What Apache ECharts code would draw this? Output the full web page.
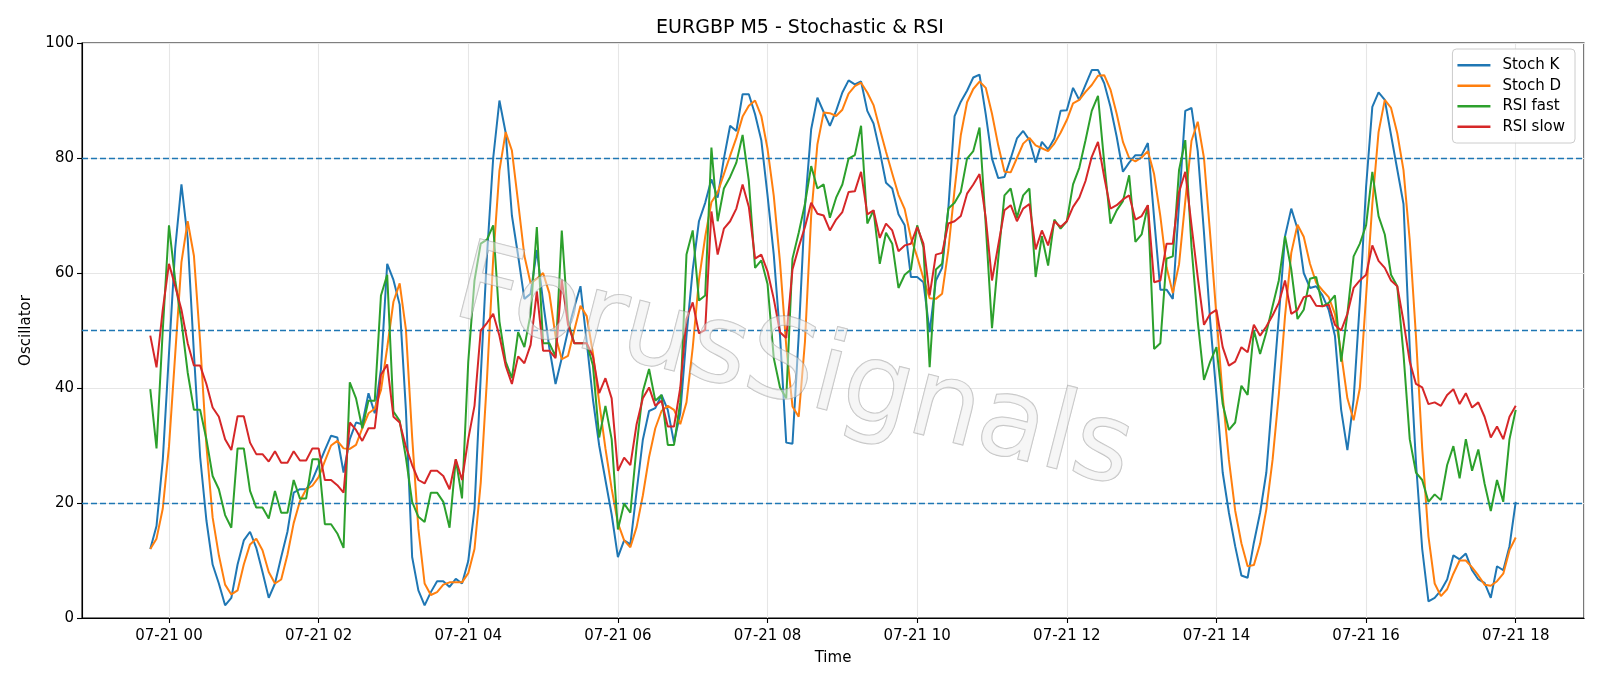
<!DOCTYPE html>
<html>
<head>
<meta charset="utf-8">
<script src="https://cdn.jsdelivr.net/npm/echarts@6/dist/echarts.min.js"></script>
<style>html,body{margin:0;padding:0;background:#fff;}#chart{width:1600px;height:686px;}</style>
</head>
<body>
<div id="chart"></div>
<script>
// 5-minute bars from 07-20 23:45 to 07-21 18:00
const START = new Date(2025, 6, 20, 23, 45, 0).getTime();
const STEP = 5 * 60 * 1000;

const stochK = [
12,16,27.4,46,64.3,75.4,66,46,28,17,
9.3,6,2.2,3.5,9.3,13.5,15,12.2,8,3.5,
6,10.6,15,21.8,22.4,22.4,24,26.6,29.2,31.7,
31.4,25.3,31.1,34,33.7,39.1,35.6,43.3,61.6,58.8,
54.5,36.2,10.6,4.8,2.2,4.5,6.4,6.4,5.4,6.8,
6,9.9,19,42,63,80,90,84.4,70,63,
55.5,56.4,64,55,47,40.7,45.2,50,54,57.7,
48,38,30,24,18,10.6,13.5,12.8,22,31,
36,36.5,38.8,36.2,30.5,35.6,49.1,60.6,69,72.2,
76.3,73.1,79.9,85.6,84.7,91.1,91.1,87.6,83.1,73.5,
63.2,49.1,30.5,30.3,49.1,71.5,85,90.5,88,85.6,
88.2,91.4,93.5,92.8,93.3,88.2,86,81.2,75.7,74.7,
70.2,68.3,59.3,59.3,58.4,49.7,58.7,60.9,71.2,87.3,
89.8,91.7,94,94.5,87.6,79.9,76.5,76.7,79.9,83.4,
84.7,83.1,79.2,82.8,81.5,83.4,88.2,88.3,92.2,90.1,
92.7,95.3,95.3,93,88.9,83.7,77.6,79.2,80.5,80.5,
82.6,69.6,57.1,57.1,55.5,72,88.2,88.7,81.2,67,
51.6,38.8,25.3,18.3,12.5,7.4,7,13.1,18.3,25.3,
38.8,52.3,66.4,71.2,67.7,60,57.4,57.7,56.1,53.6,
49.1,36.2,29.2,38,55,75,88.9,91.4,90.1,84,
78,72,47,27,12,2.9,3.5,4.8,6.7,10.9,
10.2,11.2,8.3,6.7,6.1,3.5,9,8.3,12.5,20.2
];

const stochD = [
12,13.8,19,29.8,45.9,61.9,69,63,48,30,
17.5,10.9,5.8,4.1,4.8,9.3,12.8,13.8,11.8,8,
6,6.7,11,16.5,20.3,22.4,23,24.5,27.3,30,
30.8,29.5,29.4,30.1,33,35.6,36.4,39.6,47,55,
58.2,50.2,31.5,15.5,6,4,4.5,5.8,6.2,6.2,
6.2,7.8,12,23.5,41.5,62.5,77.8,84.5,81.3,72.3,
63,58.2,59,60,56.5,49,45,45.6,50,54.3,
52.5,46,37.5,29.5,22.5,16.5,13.5,12.3,15.8,21.3,
28,33,36,36.9,36.2,33.7,37.5,47,58.8,66.3,
72.3,74,77.2,80.4,83.5,87.2,89.1,90,87.3,81.6,
73.4,61.9,47.3,36.8,35,48,70,82.4,87.9,87.8,
87.3,88.4,91.2,92.5,93.1,91.4,89.2,85.1,81.1,77.3,
73.6,71.1,66.1,62.8,59.1,55.6,55.5,56.4,64,74.5,
84,89.7,92,93.3,92.2,87.7,82.2,77.6,77.5,80,
82.5,83.5,82.2,81.7,81.2,82.5,84.4,86.6,89.5,90.1,
91.5,92.7,94.3,94.4,91.9,87.7,82.8,80,79.4,80.1,
81.2,77.2,69.9,61,56.5,61.5,72.5,83,86.3,80,
66.6,52.5,38.6,27.5,18.7,13,9,9.2,12.9,18.9,
27.5,38.8,52.5,63.5,68.4,66.3,61.6,58.3,57,55.8,
52.9,46,38.2,34.4,40,56,72,84.5,90.1,88.7,
84.3,77.9,65.7,49,29.5,14.2,6,3.8,5,7.7,
10,10,8.8,7.4,5.8,5.6,6.4,7.7,11.8,14
];

const rsiFast = [
39.8,29.5,50,68.3,58.7,51.6,42.7,36.2,36.2,31.1,
24.7,22.4,17.9,15.7,29.5,29.5,22.1,19.2,19.2,17.3,
22.1,18.3,18.3,24,20.8,20.8,27.6,27.6,16.3,16.3,
14.7,12.2,41,38.2,33,37.8,37.8,56.1,59.7,35.9,
34.3,27.9,20.2,17.6,16.7,21.8,21.8,20.2,15.7,27.6,
20.8,44.6,58.7,65.1,65.8,68.3,51.6,44.6,41.7,49.7,
47.1,52.9,68,47.8,47.8,45.5,67.4,51.6,47.8,47.8,
47.8,43.9,31.4,36.9,31.1,15.4,19.9,18.3,29.8,39.4,
43.3,37.8,38.8,30.1,30.1,37.5,63.2,67.4,55.2,56.1,
81.8,69,74.7,76.7,79.2,84,76,60.9,62.2,58.1,
45.2,40.1,38.2,62.5,67,72,78.6,74.7,75.4,69.6,
73.1,75.4,79.9,80.5,85.6,68.6,70.9,61.6,67,65.1,
57.4,59.7,60.6,68.3,64.5,43.6,60.6,61.6,71.2,72.2,
74.1,79.9,81.2,85.3,68.3,50.4,62.5,73.5,74.7,69.6,
73.5,74.7,59.3,66.4,61.3,69.3,67.7,69,75.4,78.3,
83.1,88.2,90.8,79.2,68.6,70.9,72.5,77,65.4,66.7,
71.8,46.8,47.8,62.5,62.9,77.9,83.1,64.5,51.6,41.4,
44.6,47.1,37.2,32.7,34,40.4,38.8,50,45.9,49.7,
54.2,58.7,66.4,60.6,52,53.6,59,59.3,54.2,54.8,
56.1,44.6,52.9,62.9,65.1,68.3,77.6,69.9,66.7,59.7,
57.7,45.9,31.1,25.3,24,20.2,21.5,20.5,26.6,29.9,
24.3,31.1,25.6,29.3,23.4,18.6,24,20.2,31.1,36.2
];

const rsiSlow = [
49.1,43.6,53.6,61.6,57.7,53.6,47.8,43.9,43.9,40.7,
36.6,35,31.1,29.2,35.1,35.1,30.5,28.5,28.5,27.2,
29,27,27,29,27.4,27.4,29.5,29.5,24,24,
23.1,21.8,34,32.7,30.8,33,33,42.3,44.1,35,
34,29.8,26.6,24,23.4,25.6,25.6,24.7,22.4,27.6,
24,31.1,36.9,50,51.3,52.9,49.1,43.9,40.7,45.5,
44.3,47.5,56.8,46.5,46.5,45.2,58.8,51,47.8,47.8,
47.8,45.5,39.1,41.7,38.2,25.6,27.9,26.6,33.7,38.2,
40.1,36.9,37.8,33.3,33.3,40,52,54.9,49.5,50.1,
70.7,63.2,67.7,69,71.2,75.4,71.5,62.5,63.2,60.3,
55.5,49.7,48.7,60.6,64.5,68,72.2,70.3,70,67.4,
69.3,70.6,74.1,74.2,77.6,70.2,70.9,66.1,68.6,67.4,
63.8,64.8,65.1,68,65.1,56.1,63.2,63.5,68.6,69,
69.9,73.8,75.4,77.2,69.6,58.7,64.8,70.9,71.8,69,
71.2,72,64.1,67.4,64.8,69,68,69,71.5,73.1,
76,80.2,82.8,76.7,71.2,71.8,72.8,73.5,69.3,69.9,
71.8,58.4,58.7,65.1,65.1,74.1,77.6,68.3,59.3,51,
52.9,53.6,47.1,43.9,44.6,47.1,46.2,51,49.1,50.7,
52.6,54.8,58.7,52.9,53.6,55.8,56.1,54.3,54.2,54.5,
51,50,52.9,57.4,58.7,59.7,64.8,62.1,60.9,58.7,
57.7,51.6,44.6,40.7,40.1,37.2,37.5,36.9,38.8,39.8,
37.2,39.1,36.6,37.5,35,31.4,33.3,31.1,35,36.9
];

const seriesNames = ['Stoch K', 'Stoch D', 'RSI fast', 'RSI slow'];
const seriesColors = ['#1f77b4', '#ff7f0e', '#2ca02c', '#d62728'];
const levelLines = [20, 50, 80];
const yTicks = [0, 20, 40, 60, 80, 100];
const titleText = 'EURGBP M5 - Stochastic & RSI';
const watermarkText = 'ForusSignals';

const times = stochK.map((_, i) => START + i * STEP);
const span = times[times.length - 1] - times[0];
const xMin = times[0] - 0.05 * span;
const xMax = times[times.length - 1] + 0.05 * span;

function pair(arr) { return arr.map((v, i) => [times[i], v]); }
function pad(n) { return (n < 10 ? '0' : '') + n; }

const FONT = 'DejaVu Sans';
const HOUR = 3600 * 1000;
const chart = echarts.init(document.getElementById('chart'), null, { renderer: 'canvas' });

const valuesList = [stochK, stochD, rsiFast, rsiSlow];
const series = valuesList.map((vals, k) => ({
  name: seriesNames[k],
  type: 'line',
  data: pair(vals),
  showSymbol: false,
  symbol: 'none',
  lineStyle: { color: seriesColors[k], width: 2 },
  itemStyle: { color: seriesColors[k] },
  z: 3 + k,
  animation: false
}));
series[0].markLine = {
  silent: true,
  symbol: 'none',
  label: { show: false },
  lineStyle: { color: '#1f77b4', type: [6, 3], width: 1.4 },
  data: levelLines.map(v => ({ yAxis: v })),
  animation: false
};

chart.setOption({
  animation: false,
  backgroundColor: '#ffffff',
  title: {
    text: titleText,
    left: 'center',
    top: 13,
    textStyle: { fontFamily: FONT, fontSize: 19, fontWeight: 'normal', color: '#000', lineHeight: 21 }
  },
  legend: {
    data: seriesNames,
    orient: 'vertical',
    right: 25,
    top: 49,
    icon: 'rect',
    itemWidth: 33,
    itemHeight: 2.5,
    itemGap: 0,
    padding: [6, 10, 6, 5],
    backgroundColor: 'rgba(255,255,255,0.85)',
    borderColor: '#cccccc',
    borderWidth: 1,
    borderRadius: 4,
    textStyle: { fontFamily: FONT, fontSize: 15, color: '#000', lineHeight: 20.5, padding: [0, 0, 0, 7] }
  },
  grid: {
    left: 82, right: 16, top: 43, bottom: 68,
    show: true, borderColor: '#000', borderWidth: 1.1, backgroundColor: 'transparent'
  },
  xAxis: {
    type: 'time',
    min: xMin,
    max: xMax,
    splitNumber: 7,
    minInterval: 2.5 * HOUR,
    maxInterval: 3 * HOUR,
    name: 'Time',
    nameLocation: 'middle',
    nameGap: 33,
    nameTextStyle: { fontFamily: FONT, fontSize: 15, color: '#000' },
    axisLine: { show: true, lineStyle: { color: '#000', width: 1.1 } },
    axisTick: { show: true, length: 5, lineStyle: { color: '#000', width: 1.1 } },
    minorTick: { show: false },
    axisLabel: {
      fontFamily: FONT, fontSize: 15, color: '#000', margin: 11,
      formatter: function (v) {
        const d = new Date(v);
        return pad(d.getMonth() + 1) + '-' + pad(d.getDate()) + ' ' + pad(d.getHours());
      }
    },
    splitLine: { show: true, lineStyle: { color: '#e6e6e6', width: 1.1 } }
  },
  yAxis: {
    type: 'value',
    min: 0,
    max: 100,
    interval: 20,
    name: 'Oscillator',
    nameLocation: 'middle',
    nameGap: 48,
    nameTextStyle: { fontFamily: FONT, fontSize: 15, color: '#000' },
    axisLine: { show: true, lineStyle: { color: '#000', width: 1.1 } },
    axisTick: { show: true, length: 5, lineStyle: { color: '#000', width: 1.1 } },
    axisLabel: { fontFamily: FONT, fontSize: 15, color: '#000', margin: 8,
      formatter: function (v) { return yTicks.indexOf(v) >= 0 ? String(v) : ''; } },
    splitLine: { show: true, lineStyle: { color: '#e6e6e6', width: 1.1 } }
  },
  graphic: [{
    type: 'text',
    x: 793, y: 372,
    rotation: -0.25,
    z: 100,
    silent: true,
    style: {
      text: watermarkText,
      fontFamily: FONT,
      fontSize: 110,
      fill: 'rgba(238,238,238,0.5)',
      stroke: 'rgba(140,140,140,0.55)',
      lineWidth: 1.2,
      textAlign: 'center',
      textVerticalAlign: 'middle',
      shadowColor: 'rgba(110,110,110,0.5)',
      shadowBlur: 3,
      shadowOffsetX: 4,
      shadowOffsetY: 4
    }
  }],
  series: series
});
</script>
</body>
</html>
